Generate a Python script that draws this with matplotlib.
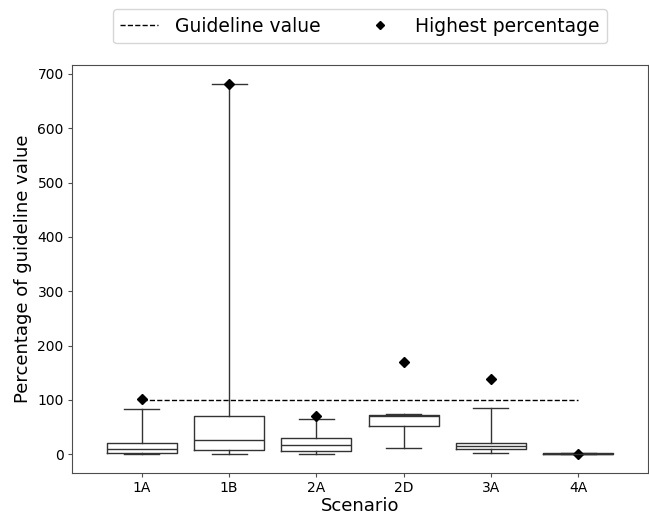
import numpy as np
import matplotlib
matplotlib.use('Agg')
import matplotlib.pyplot as plt
from matplotlib.lines import Line2D

# box statistics per scenario (percentage of guideline value)
scenarios = ['1A', '1B', '2A', '2D', '3A', '4A']
whislo = [0.0, 0.0, 0.2, 11.0, 3.0, 0.3]
q1 = [1.8, 8.5, 6.7, 52.5, 10.4, 0.8]
med = [10.4, 26.9, 17.7, 70.0, 15.3, 1.2]
q3 = [21.4, 70.2, 29.3, 72.0, 20.8, 1.8]
whishi = [83.7, 682.0, 65.4, 74.0, 84.9, 2.5]
highest = [102.0, 682.0, 70.0, 169.0, 138.0, 1.5]
guideline = 100

lc = '0.2'

fig = plt.figure(figsize=(6.49, 5.14), dpi=100)
ax = fig.add_axes([0.111, 0.080, 0.8875, 0.7935])

stats = []
for i in range(len(scenarios)):
    stats.append(dict(label=scenarios[i], whislo=whislo[i], q1=q1[i], med=med[i],
                      q3=q3[i], whishi=whishi[i], fliers=[]))

pos = np.arange(1, len(scenarios) + 1)
ax.bxp(stats, positions=pos, widths=0.8, showfliers=False,
       boxprops=dict(color=lc, lw=1), whiskerprops=dict(color=lc, lw=1),
       capprops=dict(color=lc, lw=1), medianprops=dict(color=lc, lw=1))

ax.plot([pos[0], pos[-1]], [guideline, guideline], 'k--', lw=1.0)
ax.plot(pos, highest, 'kD', ms=5.5, ls='none')

ax.set_xlim(0.2, 6.8)
ax.set_yticks([0, 100, 200, 300, 400, 500, 600, 700])
ax.tick_params(labelsize=10, length=3, pad=3, color='0.3')
ax.set_xlabel('Scenario', fontsize=13, labelpad=1)
ax.set_ylabel('Percentage of guideline value', fontsize=13)
for s in ax.spines.values():
    s.set_color('0.3')

h1 = Line2D([], [], color='k', ls='--', lw=1)
h2 = Line2D([], [], color='k', marker='D', ms=4.5, ls='none')
ax.legend([h1, h2], ['Guideline value', 'Highest percentage'], loc='lower center',
          bbox_to_anchor=(0.5, 1.03), ncol=2, fontsize=13.5, handletextpad=0.9,
          columnspacing=2.15, handlelength=2.0)

fig.savefig('out.png', dpi=100)
